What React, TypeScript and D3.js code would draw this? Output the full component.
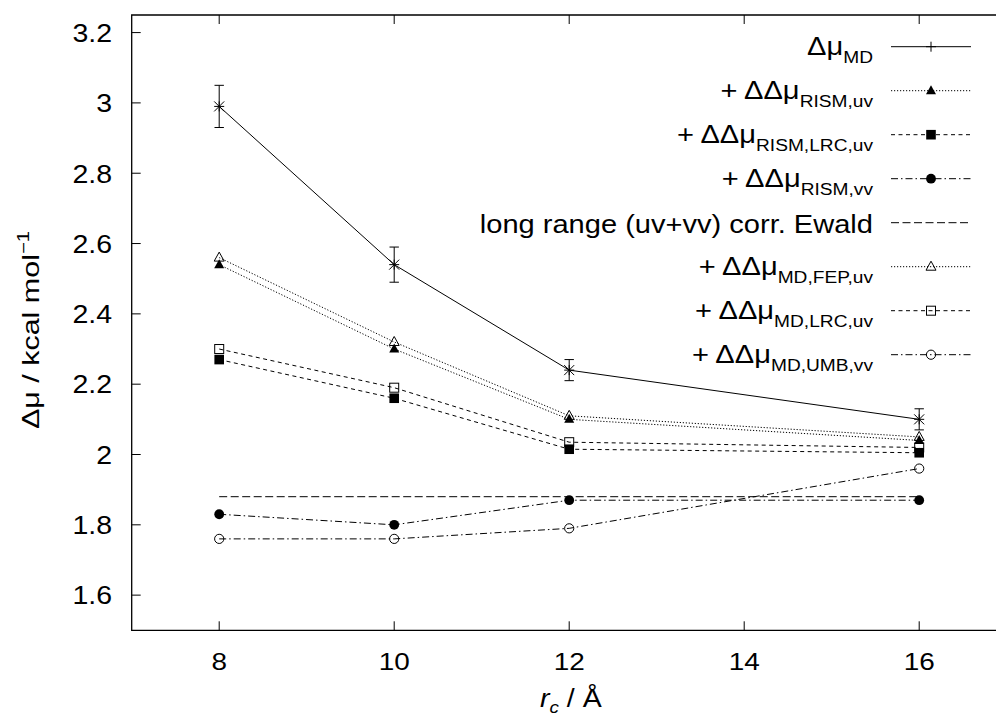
import React from "react";
import * as d3 from "d3";

// ---- data ----
const xValues = [8, 10, 12, 16];
const mdValues = [2.99, 2.54, 2.24, 2.1];
const mdErrors = [0.06, 0.05, 0.03, 0.03];
const rismUvValues = [2.54, 2.3, 2.1, 2.04];
const rismLrcUvValues = [2.27, 2.16, 2.015, 2.005];
const rismVvValues = [1.83, 1.8, 1.87, 1.87];
const ewaldX = [8, 16];
const ewaldValues = [1.88, 1.88];
const mdFepUvValues = [2.56, 2.32, 2.11, 2.05];
const mdLrcUvValues = [2.3, 2.19, 2.035, 2.02];
const mdUmbVvValues = [1.76, 1.76, 1.79, 1.96];

const xTicks = [8, 10, 12, 14, 16];
const xTickLabels = ["8", "10", "12", "14", "16"];
const yTicks = [1.6, 1.8, 2.0, 2.2, 2.4, 2.6, 2.8, 3.0, 3.2];
const yTickLabels = ["1.6", "1.8", "2", "2.2", "2.4", "2.6", "2.8", "3", "3.2"];

const legendMain = ["Δμ", "+ ΔΔμ", "+ ΔΔμ", "+ ΔΔμ", "long range (uv+vv) corr. Ewald", "+ ΔΔμ", "+ ΔΔμ", "+ ΔΔμ"];
const legendSub = ["MD", "RISM,uv", "RISM,LRC,uv", "RISM,vv", "", "MD,FEP,uv", "MD,LRC,uv", "MD,UMB,vv"];

// ---- layout ----
const W = 996;
const H = 718;
const FONT = "'Liberation Sans', Arial, Helvetica, sans-serif";
const SX = 1.14;

const x = d3.scaleLinear().domain([7, 17]).range([131.7, 1006.7]);
const y = d3.scaleLinear().domain([1.5, 3.25]).range([630.3, 15]);

type Marker = "plus" | "star" | "triUp" | "triOpen" | "sqFill" | "sqOpen" | "circFill" | "circOpen" | "none";

function MarkerShape({ cx, cy, type }: { cx: number; cy: number; type: Marker }) {
  const r = 5;
  switch (type) {
    case "plus":
      return <path d={`M${cx - r},${cy}H${cx + r}M${cx},${cy - r}V${cy + r}`} stroke="#000" strokeWidth={1} />;
    case "star":
      return (
        <path
          d={`M${cx - r},${cy}H${cx + r}M${cx},${cy - r}V${cy + r}M${cx - r},${cy - r}L${cx + r},${cy + r}M${cx - r},${cy + r}L${cx + r},${cy - r}`}
          stroke="#000"
          strokeWidth={1}
        />
      );
    case "triUp":
    case "triOpen": {
      const d = `M${cx},${cy - 5.5}L${cx + 5},${cy + 3.5}L${cx - 5},${cy + 3.5}Z`;
      return type === "triUp" ? (
        <path d={d} fill="#000" />
      ) : (
        <path d={d} fill="none" stroke="#000" strokeWidth={1} />
      );
    }
    case "sqFill":
      return <rect x={cx - 4.8} y={cy - 4.8} width={9.6} height={9.6} fill="#000" />;
    case "sqOpen":
      return <rect x={cx - 4.5} y={cy - 4.5} width={9} height={9} fill="none" stroke="#000" strokeWidth={1} />;
    case "circFill":
      return <circle cx={cx} cy={cy} r={4.9} fill="#000" />;
    case "circOpen":
      return <circle cx={cx} cy={cy} r={4.6} fill="none" stroke="#000" strokeWidth={1} />;
    default:
      return null;
  }
}

type Series = { xs: number[]; ys: number[]; dash: string; marker: Marker; legendMarker: Marker };

const series: Series[] = [
  { xs: xValues, ys: mdValues, dash: "", marker: "star", legendMarker: "plus" },
  { xs: xValues, ys: rismUvValues, dash: "1.2,1.8", marker: "triUp", legendMarker: "triUp" },
  { xs: xValues, ys: rismLrcUvValues, dash: "4,3.5", marker: "sqFill", legendMarker: "sqFill" },
  { xs: xValues, ys: rismVvValues, dash: "7,3,1.5,3", marker: "circFill", legendMarker: "circFill" },
  { xs: ewaldX, ys: ewaldValues, dash: "8,3.5", marker: "none", legendMarker: "none" },
  { xs: xValues, ys: mdFepUvValues, dash: "1.2,1.8", marker: "triOpen", legendMarker: "triOpen" },
  { xs: xValues, ys: mdLrcUvValues, dash: "4,3.5", marker: "sqOpen", legendMarker: "sqOpen" },
  { xs: xValues, ys: mdUmbVvValues, dash: "7,3,1.5,3", marker: "circOpen", legendMarker: "circOpen" },
];

const line = d3
  .line<[number, number]>()
  .x((d) => x(d[0]))
  .y((d) => y(d[1]));

export default function App() {
  const left = x.range()[0];
  const top = y.range()[1];
  const bottom = y.range()[0];
  const legendY0 = 46.7;
  const legendStep = 44;
  const legendTextRight = 873;
  const legendLineX0 = 891;
  const legendLineX1 = 971;
  const legendMarkerX = 931;

  return (
    <svg
      width={W}
      height={H}
      style={{ position: "absolute", left: 0, top: 0, background: "#fff" }}
      fontFamily={FONT}
    >
      <rect x={0} y={0} width={W} height={H} fill="#fff" />

      {/* series lines */}
      {series.map((s, i) => (
        <path
          key={"l" + i}
          d={line(s.xs.map((v, j) => [v, s.ys[j]] as [number, number])) || ""}
          fill="none"
          stroke="#000"
          strokeWidth={1}
          strokeDasharray={s.dash || undefined}
        />
      ))}

      {/* error bars for MD */}
      {xValues.map((v, j) => {
        const cx = x(v);
        const y1 = y(mdValues[j] + mdErrors[j]);
        const y2 = y(mdValues[j] - mdErrors[j]);
        return (
          <path
            key={"e" + j}
            d={`M${cx},${y1}V${y2}M${cx - 4.7},${y1}H${cx + 4.7}M${cx - 4.7},${y2}H${cx + 4.7}`}
            stroke="#000"
            strokeWidth={1}
            fill="none"
          />
        );
      })}

      {/* markers */}
      {series.map((s, i) =>
        s.xs.map((v, j) => <MarkerShape key={`m${i}-${j}`} cx={x(v)} cy={y(s.ys[j])} type={s.marker} />)
      )}

      {/* frame */}
      <path d={`M${W},${top}H${left}V${bottom}H${W}`} fill="none" stroke="#000" strokeWidth={1.3} />

      {/* x ticks */}
      {xTicks.map((t, i) => (
        <g key={"xt" + i}>
          <path d={`M${x(t)},${bottom}v-9M${x(t)},${top}v9`} stroke="#000" strokeWidth={1} />
          <g transform={`translate(${x(t)},670) scale(${SX},1)`}>
            <text textAnchor="middle" fontSize={24.5} fill="#000">
              {xTickLabels[i]}
            </text>
          </g>
        </g>
      ))}

      {/* y ticks */}
      {yTicks.map((t, i) => (
        <g key={"yt" + i}>
          <path d={`M${left},${y(t)}h9`} stroke="#000" strokeWidth={1} />
          <g transform={`translate(112,${y(t) + 9.3}) scale(${SX},1)`}>
            <text textAnchor="end" fontSize={25} fill="#000">
              {yTickLabels[i]}
            </text>
          </g>
        </g>
      ))}

      {/* axis labels */}
      <g transform={`translate(540,707) scale(${SX},1)`}>
        <text fontSize={25} fill="#000">
          <tspan fontStyle="italic">r</tspan>
          <tspan fontStyle="italic" fontSize={16.5} dy={6}>
            c
          </tspan>
          <tspan dy={-6}> / Å</tspan>
        </text>
      </g>
      <g transform={`translate(39,330) rotate(-90) scale(1.27,1)`}>
        <text textAnchor="middle" fontSize={24} fill="#000">
          <tspan>Δμ / kcal mol</tspan>
          <tspan fontSize={16} dy={-10}>
            −1
          </tspan>
        </text>
      </g>

      {/* legend */}
      {series.map((s, i) => {
        const ry = legendY0 + i * legendStep;
        const hasSub = legendSub[i] !== "";
        return (
          <g key={"lg" + i}>
            <g transform={`translate(${legendTextRight},${ry + (hasSub ? 8.3 : 10.5)}) scale(${SX},1)`}>
              <text textAnchor="end" fontSize={25.5} fill="#000">
                <tspan>{legendMain[i]}</tspan>
                {hasSub && (
                  <tspan fontSize={16.8} dy={7.5}>
                    {legendSub[i]}
                  </tspan>
                )}
              </text>
            </g>
            <path
              d={`M${legendLineX0},${ry}H${legendLineX1}`}
              stroke="#000"
              strokeWidth={1}
              strokeDasharray={s.dash || undefined}
            />
            <MarkerShape cx={legendMarkerX} cy={ry} type={s.legendMarker} />
          </g>
        );
      })}
    </svg>
  );
}
